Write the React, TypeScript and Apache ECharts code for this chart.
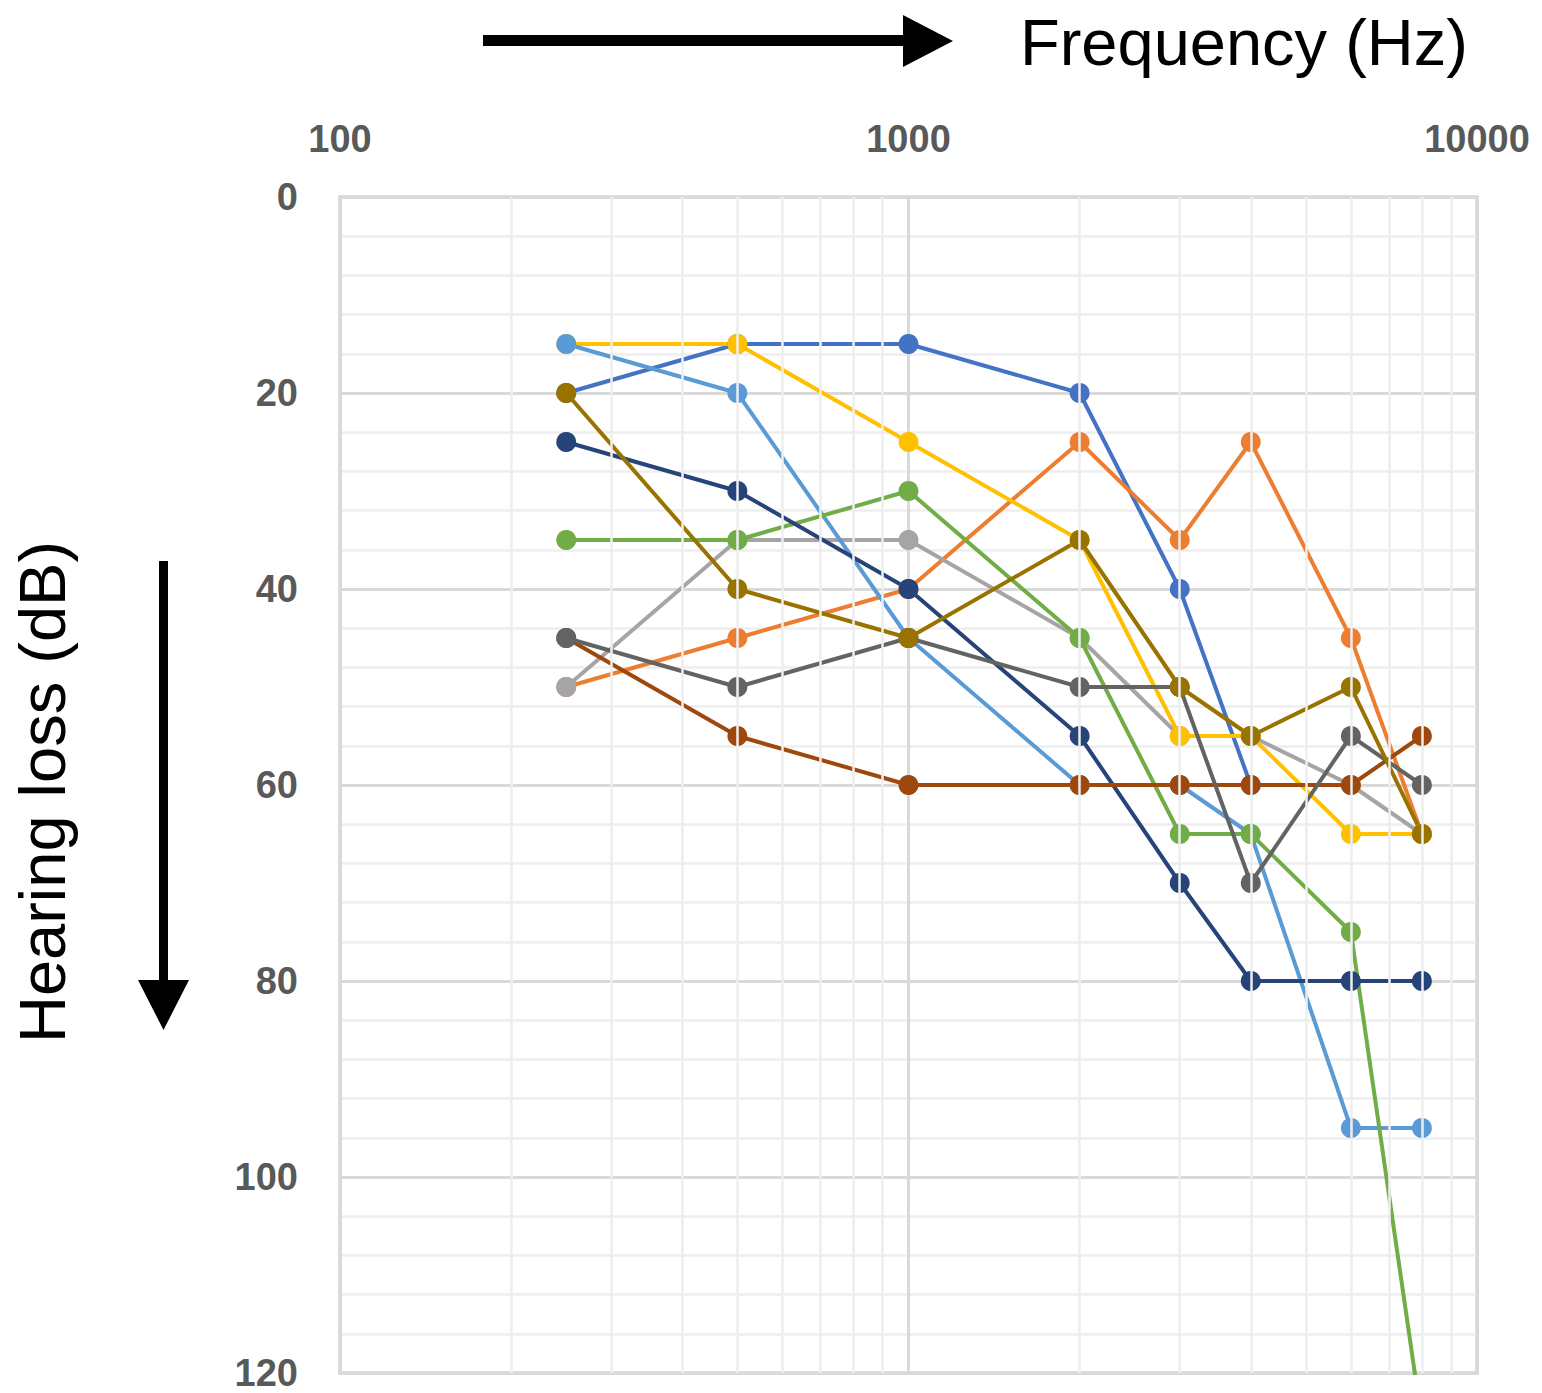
import React, { useEffect, useRef } from "react";
import * as echarts from "echarts";

const FREQS = [250, 500, 1000, 2000, 3000, 4000, 6000, 8000];

const S_BLUE = [20, 15, 15, 20, 40, 60];
const S_ORANGE = [50, 45, 40, 25, 35, 25, 45, 65];
const S_GRAY = [50, 35, 35, 45, 55, 55, 60, 65];
const S_YELLOW = [15, 15, 25, 35, 55, 55, 65, 65];
const S_LIGHTBLUE = [15, 20, 45, 60, 60, 65, 95, 95];
const S_GREEN = [35, 35, 30, 45, 65, 65, 75, 125];
const S_DARKBLUE = [25, 30, 40, 55, 70, 80, 80, 80];
const S_BROWN = [45, 55, 60, 60, 60, 60, 60, 55];
const S_DARKGRAY = [45, 50, 45, 50, 50, 70, 55, 60];
const S_GOLD = [20, 40, 45, 35, 50, 55, 50, 65];

const SERIES_VALUES = [
  S_BLUE, S_ORANGE, S_GRAY, S_YELLOW, S_LIGHTBLUE,
  S_GREEN, S_DARKBLUE, S_BROWN, S_DARKGRAY, S_GOLD,
];
const SERIES_COLORS = [
  "#4472C4", "#ED7D31", "#A5A5A5", "#FFC000", "#5B9BD5",
  "#70AD47", "#264478", "#9E480E", "#636363", "#997300",
];

const X_MIN = 100;
const X_MAX = 10000;
const X_MINOR = [200, 300, 400, 500, 600, 700, 800, 900, 2000, 3000, 4000, 5000, 6000, 7000, 8000, 9000];
const Y_MIN = 0;
const Y_MAX = 120;
const Y_INTERVAL = 20;

const X_TITLE = "Frequency (Hz)";
const Y_TITLE = "Hearing loss (dB)";

const FONT = "'Liberation Sans', Arial, Helvetica, sans-serif";

export default function App() {
  const ref = useRef<HTMLDivElement>(null);

  useEffect(() => {
    if (!ref.current) return;
    const chart = echarts.init(ref.current, null, { renderer: "svg" });

    const labelStyle = {
      color: "#595959",
      fontSize: 38,
      fontWeight: "bold" as const,
      fontFamily: FONT,
    };

    const lineSeries = SERIES_VALUES.map((vals, i) => ({
      type: "line",
      name: "S" + (i + 1),
      data: vals.map((v, j) => [FREQS[j], v]),
      symbol: "circle",
      symbolSize: 20,
      showSymbol: true,
      clip: true,
      z: 3,
      lineStyle: { color: SERIES_COLORS[i], width: 4 },
      itemStyle: { color: SERIES_COLORS[i] },
      emphasis: { disabled: true },
    }));

    const option: any = {
      animation: false,
      grid: {
        left: 340,
        top: 197,
        right: 65,
        bottom: 20,
        show: true,
        borderColor: "#bfbfbf",
        borderWidth: 3,
        backgroundColor: "transparent",
      },
      xAxis: {
        type: "log",
        logBase: 10,
        min: X_MIN,
        max: X_MAX,
        position: "top",
        axisLine: { show: false },
        axisTick: { show: false },
        axisLabel: {
          ...labelStyle,
          margin: 39,
          formatter: (v: number) => String(Math.round(v)),
        },
        splitLine: { show: true, lineStyle: { color: "#d9d9d9", width: 3 } },
      },
      yAxis: {
        type: "value",
        inverse: true,
        min: Y_MIN,
        max: Y_MAX,
        interval: Y_INTERVAL,
        axisLine: { show: false },
        axisTick: { show: false },
        axisLabel: { ...labelStyle, margin: 42, lineHeight: 32 },
        splitLine: { show: true, lineStyle: { color: "#d9d9d9", width: 3 } },
        minorTick: { show: false, splitNumber: 5 },
        minorSplitLine: { show: true, lineStyle: { color: "#eeeeee", width: 2.5 } },
      },
      series: [
        {
          type: "line",
          name: "minor-x",
          data: [],
          z: 1,
          silent: true,
          markLine: {
            silent: true,
            symbol: ["none", "none"],
            label: { show: false },
            lineStyle: { color: "#eeeeee", width: 2.5, type: "solid" },
            emphasis: { disabled: true },
            data: X_MINOR.map((v) => ({ xAxis: v })),
          },
        },
        ...lineSeries,
      ],
      graphic: [
        {
          type: "polygon",
          shape: {
            points: [
              [483, 35], [903, 35], [903, 15], [953, 41],
              [903, 67], [903, 46], [483, 46],
            ],
          },
          style: { fill: "#000" },
        },
        {
          type: "text",
          x: 1020,
          y: 42,
          style: {
            text: X_TITLE,
            fontSize: 65,
            fontFamily: FONT,
            fill: "#000",
            align: "left",
            verticalAlign: "middle",
          },
        },
        {
          type: "polygon",
          shape: {
            points: [
              [159, 561], [168, 561], [168, 980], [189, 980],
              [163.5, 1030], [138, 980], [159, 980],
            ],
          },
          style: { fill: "#000" },
        },
        {
          type: "text",
          x: 42,
          y: 792,
          rotation: Math.PI / 2,
          style: {
            text: Y_TITLE,
            fontSize: 65,
            fontFamily: FONT,
            fill: "#000",
            align: "center",
            verticalAlign: "middle",
          },
        },
      ],
    };

    chart.setOption(option);
    return () => chart.dispose();
  }, []);

  return (
    <div
      ref={ref}
      style={{ position: "absolute", left: 0, top: 0, width: 1542, height: 1393, background: "#fff" }}
    />
  );
}
